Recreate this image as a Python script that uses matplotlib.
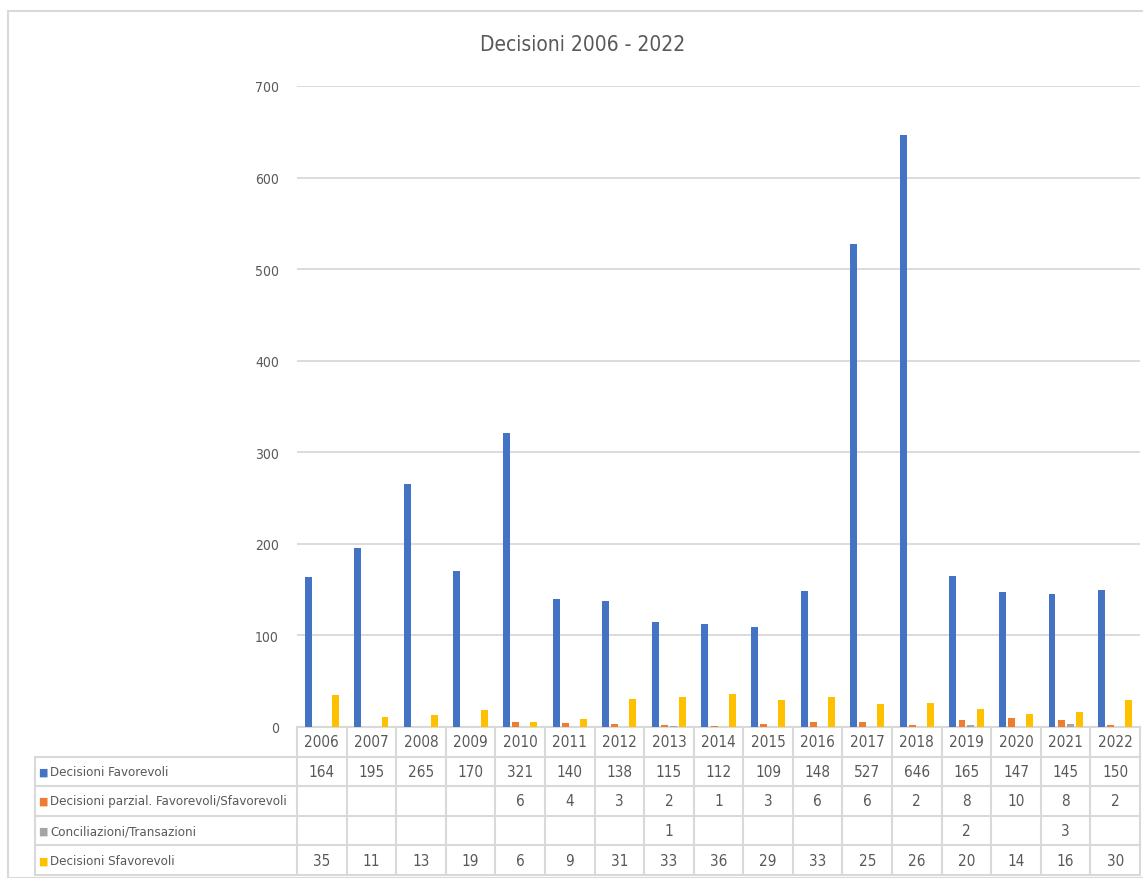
import matplotlib.pyplot as plt
from matplotlib.patches import Rectangle
from matplotlib.transforms import blended_transform_factory

years = [str(y) for y in range(2006, 2023)]
favorevoli = [164, 195, 265, 170, 321, 140, 138, 115, 112, 109, 148, 527, 646, 165, 147, 145, 150]
parziali = [None, None, None, None, 6, 4, 3, 2, 1, 3, 6, 6, 2, 8, 10, 8, 2]
conciliazioni = [None, None, None, None, None, None, None, 1, None, None, None, None, None, 2, None, 3, None]
sfavorevoli = [35, 11, 13, 19, 6, 9, 31, 33, 36, 29, 33, 25, 26, 20, 14, 16, 30]

series = [
    ('Decisioni Favorevoli', favorevoli, '#4472C4'),
    ('Decisioni parzial. Favorevoli/Sfavorevoli', parziali, '#ED7D31'),
    ('Conciliazioni/Transazioni', conciliazioni, '#A5A5A5'),
    ('Decisioni Sfavorevoli', sfavorevoli, '#FFC000'),
]

plt.rcParams['font.family'] = ['DejaVu Sans']
plt.rcParams['font.stretch'] = 'condensed'
W, H = 1143, 879
txt = '#595959'
grid = '#d9d9d9'

fig = plt.figure(figsize=(W / 100, H / 100), dpi=100)
fig.patches.append(Rectangle((8 / W, 0), 1.2, 1 - 12 / H, transform=fig.transFigure,
                             fill=False, edgecolor=grid, lw=1.5))

ax = fig.add_axes([297 / W, 1 - 728 / H, 843 / W, 641 / H])
n = len(years)
x = range(n)
offsets = [-0.275, -0.09, 0.09, 0.275]
for (name, vals, col), off in zip(series, offsets):
    v = [0 if a is None else a for a in vals]
    ax.bar([i + off for i in x], v, width=0.14, color=col, zorder=3)

ax.set_xlim(-0.5, n - 0.5)
ax.set_ylim(0, 700)
ax.set_yticks(range(0, 701, 100))
ax.set_xticks([])
ax.grid(axis='y', color=grid, lw=1.3, zorder=0)
for s in ax.spines.values():
    s.set_visible(False)
ax.tick_params(axis='y', length=0, pad=13, labelcolor=txt, labelsize=10)

fig.text(583 / W, 1 - 45 / H, 'Decisioni 2006 - 2022', ha='center', va='center',
         fontsize=15, color=txt)

# data table under the chart
tr = blended_transform_factory(ax.transData, ax.transAxes)
rh = 29.6 / 641
x_left = -0.5 - 262 / 49.6
nrows = len(series) + 1
line_kw = dict(color=grid, lw=1.5, transform=tr, clip_on=False)
for j in range(n + 1):
    ax.plot([j - 0.5, j - 0.5], [0, -nrows * rh], **line_kw)
ax.plot([x_left, x_left], [-rh, -nrows * rh], **line_kw)
ax.plot([-0.5, n - 0.5], [0, 0], **line_kw)
for k in range(1, nrows + 1):
    ax.plot([x_left, n - 0.5], [-k * rh, -k * rh], **line_kw)

for i, yr in enumerate(years):
    ax.text(i, -0.5 * rh, yr, ha='center', va='center', color=txt, fontsize=11,
            transform=tr, clip_on=False)
for k, (name, vals, col) in enumerate(series):
    yc = -(k + 1.5) * rh
    ax.text(x_left + 0.06, yc, '■', color=col, fontsize=8, ha='left', va='center',
            transform=tr, clip_on=False)
    ax.text(x_left + 0.3, yc, name, color=txt, fontsize=9.5, ha='left', va='center',
            transform=tr, clip_on=False)
    for i, v in enumerate(vals):
        if v is not None:
            ax.text(i, yc, str(v), ha='center', va='center', color=txt, fontsize=11,
                    transform=tr, clip_on=False)

fig.savefig('out.png', dpi=100)
